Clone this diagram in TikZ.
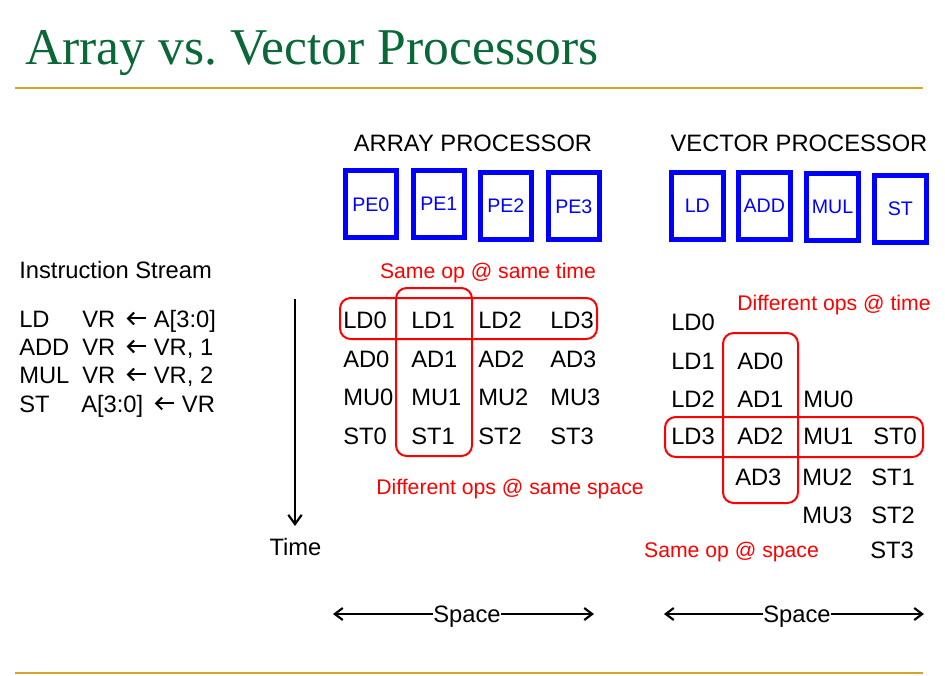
\documentclass[tikz,border=0pt]{standalone}
\usepackage{fontspec}
\setmainfont{Liberation Sans}
\newfontfamily\titlefont{Liberation Serif}
\usetikzlibrary{arrows.meta}
\definecolor{titlegreen}{RGB}{10,104,56}
\definecolor{rulegold}{RGB}{214,164,40}
\definecolor{peblue}{RGB}{0,0,255}
\definecolor{opred}{RGB}{255,0,0}
\frenchspacing

% inline assignment arrow, sized to the cap height of the body text
\newcommand\assignarrow{\tikz[baseline=0pt,x=1pt,y=1pt]{%
  \useasboundingbox (0,0) rectangle (29,1);
  \draw[line width=1.5pt, -{Straight Barb[length=4.5pt,width=9pt]}] (23.4,6.4) -- (8.6,6.4);}}

\begin{document}
\begin{tikzpicture}[x=0.75pt,y=-0.75pt,
  txt/.style={inner sep=0pt, font=\fontsize{17.8pt}{20pt}\selectfont},
  cell/.style={txt, anchor=base west},
  head/.style={txt, anchor=base},
  note/.style={inner sep=0pt, anchor=base, text=opred, font=\fontsize{15.9pt}{18pt}\selectfont},
  unit/.style={draw=peblue, line width=3.75pt, text=peblue, minimum width=38.6pt,
    minimum height=50.25pt, inner sep=0pt, font=\fontsize{14.7pt}{16pt}\selectfont},
  group/.style={draw=opred, line width=1.5pt, rounded corners=8pt},
  rule/.style={draw=rulegold, line width=1.6pt},
  spanarrow/.style={{Straight Barb[length=6pt,width=9pt]}-{Straight Barb[length=6pt,width=9pt]}, line width=1.6pt},
  timearrow/.style={-{Straight Barb[length=7pt,width=10pt]}, line width=1.6pt},
]
\useasboundingbox (0,0) rectangle (945,675);

% title and rules
\node[anchor=base west, inner sep=0pt, text=titlegreen,
      font=\titlefont\fontsize{38.7pt}{40pt}\selectfont] (title) at (25,64) {Array vs. Vector Processors};
\coordinate (rtl) at (15,88);  \coordinate (rtr) at (923,88);
\coordinate (rbl) at (15,673); \coordinate (rbr) at (923,673);
\draw[rule] (rtl) -- (rtr);
\draw[rule] (rbl) -- (rbr);

% headings
\node[head] (arrhead) at (473,151) {ARRAY PROCESSOR};
\node[head] (vechead) at (799,151) {VECTOR PROCESSOR};

% processing elements
\node[unit] (pe0) at (370.8,204.3) {PE0};
\node[unit] (pe1) at (438.8,204) {PE1};
\node[unit] (pe2) at (505.8,206) {PE2};
\node[unit] (pe3) at (573.8,206.3) {PE3};

% functional units
\node[unit] (fuld)  at (697.3,206) {LD};
\node[unit] (fuadd) at (764.3,206) {ADD};
\node[unit] (fumul) at (832.5,207.3) {MUL};
\node[unit] (fust)  at (900.3,208.7) {ST};

% instruction stream
\node[cell] (istream) at (19,278) {Instruction Stream};
\node[cell] (op1) at (19,327) {LD};
\node[cell] (arg1) at (82,327) {VR\assignarrow A[3:0]};
\node[cell] (op2) at (19,355) {ADD};
\node[cell] (arg2) at (82,355) {VR\assignarrow VR, 1};
\node[cell] (op3) at (19,383) {MUL};
\node[cell] (arg3) at (82,383) {VR\assignarrow VR, 2};
\node[cell] (op4) at (19,412) {ST};
\node[cell] (arg4) at (81,412) {A[3:0]\assignarrow VR};

% time axis
\coordinate (ttop) at (295,299);
\coordinate (tbot) at (295,526);
\draw[timearrow] (ttop) -- (tbot);
\node[head] (time) at (295.5,555) {Time};

% array processor schedule
\node[cell] (a00) at (343,328.5) {LD0};
\node[cell] (a01) at (411,328.5) {LD1};
\node[cell] (a02) at (478,328.5) {LD2};
\node[cell] (a03) at (550,328.5) {LD3};
\node[cell] (a10) at (343,367.5) {AD0};
\node[cell] (a11) at (411,367.5) {AD1};
\node[cell] (a12) at (478,367.5) {AD2};
\node[cell] (a13) at (550,367.5) {AD3};
\node[cell] (a20) at (343,405.5) {MU0};
\node[cell] (a21) at (411,405.5) {MU1};
\node[cell] (a22) at (478,405.5) {MU2};
\node[cell] (a23) at (550,405.5) {MU3};
\node[cell] (a30) at (343,444.5) {ST0};
\node[cell] (a31) at (411,444.5) {ST1};
\node[cell] (a32) at (478,444.5) {ST2};
\node[cell] (a33) at (550,444.5) {ST3};

\draw[group] (340,298) rectangle (597,339);
\draw[group] (396,288) rectangle (472,456);
\node[note] (sameoptime) at (488,278) {Same op @ same time};
\node[note] (diffopspace) at (510,494) {Different ops @ same space};

% vector processor schedule
\node[cell] (v0)  at (671,330.5) {LD0};
\node[cell] (v1)  at (671,369.5) {LD1};
\node[cell] (v2)  at (671,407.5) {LD2};
\node[cell] (v3)  at (671,444.5) {LD3};
\node[cell] (v4)  at (737,369.5) {AD0};
\node[cell] (v5)  at (737,407.5) {AD1};
\node[cell] (v6)  at (737,444.5) {AD2};
\node[cell] (v7)  at (735,485.5) {AD3};
\node[cell] (v8)  at (803,407.5) {MU0};
\node[cell] (v9)  at (803,444.5) {MU1};
\node[cell] (v10) at (802,485.5) {MU2};
\node[cell] (v11) at (802,523.5) {MU3};
\node[cell] (v12) at (873,444.5) {ST0};
\node[cell] (v13) at (871,485.5) {ST1};
\node[cell] (v14) at (871,523.5) {ST2};
\node[cell] (v15) at (870,558.5) {ST3};

\draw[group] (723,333) rectangle (798,503);
\draw[group] (665,417) rectangle (923,457);
\node[note] (diffoptime) at (834,310.5) {Different ops @ time};
\node[note] (sameopspace) at (731.5,557) {Same op @ space};

% space axes
\coordinate (s1l) at (333,614); \coordinate (s1r) at (594,614);
\coordinate (s2l) at (664,614); \coordinate (s2r) at (924,614);
\draw[spanarrow] (s1l) -- (s1r);
\draw[spanarrow] (s2l) -- (s2r);
\node[head, fill=white, inner xsep=0.5pt] (space1) at (467,622) {Space};
\node[head, fill=white, inner xsep=0.5pt] (space2) at (797,622) {Space};
\end{tikzpicture}
\end{document}
